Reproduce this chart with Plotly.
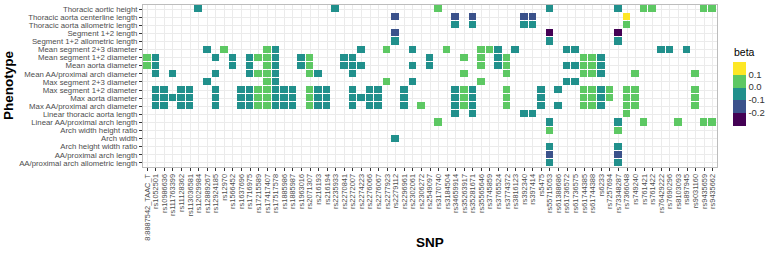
import plotly.graph_objects as go

snps = ["8:8887542_TAAC_T", "rs1052501", "rs10986636", "rs111763399", "rs11128362", "rs113036581",
        "rs12029984", "rs12889267", "rs12924185", "rs12970", "rs1566452", "rs1637696", "rs1716975",
        "rs17215589", "rs17417407", "rs17517578", "rs1885986", "rs1885987", "rs1963016", "rs2071307",
        "rs216193", "rs216194", "rs2235933", "rs2270841", "rs2272007", "rs2274223", "rs2276066",
        "rs2276067", "rs2277923", "rs2279112", "rs2296961", "rs2302061", "rs2306272", "rs2549097",
        "rs3170740", "rs3184504", "rs34659914", "rs35263917", "rs35281671", "rs35565646", "rs3745859",
        "rs3765524", "rs3774372", "rs3816123", "rs392340", "rs397414", "rs5475", "rs55715053",
        "rs61388686", "rs61736572", "rs61736575", "rs61744385", "rs61744388", "rs6233", "rs7257694",
        "rs73348287", "rs7366048", "rs749240", "rs761421", "rs761422", "rs76429222", "rs7690296",
        "rs8103093", "rs897945", "rs9031160", "rs9435659", "rs9435662"]

phenotypes = ["Thoracic aortic height", "Thoracic aorta centerline length", "Thoracic aorta allometric length",
              "Segment 1+2 length", "Segment 1+2 allometric length", "Mean segment 2+3 diameter",
              "Mean segment 1+2 diameter", "Mean aorta diameter", "Mean AA/proximal arch diameter",
              "Max segment 2+3 diameter", "Max segment 1+2 diameter", "Max aorta diameter",
              "Max AA/proximal arch diameter", "Linear thoracic aorta length", "Linear AA/proximal arch length",
              "Arch width height ratio", "Arch width", "Arch height width ratio", "AA/proximal arch length",
              "AA/proximal arch allometric length"]

# beta estimates per phenotype: (SNP column number, beta)
thoracic_aortic_height = [(7, -0.05), (23, -0.05), (35, 0.05), (48, -0.05), (56, -0.05), (59, 0.05), (60, 0.05), (66, 0.05), (67, 0.05)]
thoracic_centerline_length = [(30, -0.15), (37, -0.15), (39, -0.15), (45, -0.15), (46, -0.15), (57, 0.15)]
thoracic_allometric_length = [(37, -0.05), (39, -0.05), (45, -0.05), (46, -0.05), (57, 0.05)]
segment12_length = [(30, -0.15), (48, -0.25), (56, -0.25)]
segment12_allometric_length = [(30, -0.05), (48, -0.05), (56, -0.05)]
mean_segment23_diameter = [(8, -0.05), (10, 0.05), (15, 0.05), (16, -0.05), (26, -0.05), (29, 0.05), (32, -0.05),
                           (36, 0.05), (40, 0.05), (41, 0.05), (42, -0.05), (44, -0.05), (50, -0.05), (51, -0.05),
                           (61, -0.05), (62, -0.05), (64, -0.05)]
mean_segment12_diameter = [(1, 0.05), (2, -0.05), (9, -0.05), (11, -0.05), (13, -0.05), (14, 0.05), (15, 0.05),
                           (16, -0.05), (19, -0.05), (20, 0.05), (24, -0.05), (25, -0.05), (34, -0.05), (38, 0.05),
                           (40, 0.05), (42, -0.05), (43, 0.05), (52, 0.05), (53, 0.05), (54, -0.05)]
mean_aorta_diameter = [(1, 0.05), (2, -0.05), (11, -0.05), (13, -0.05), (15, 0.05), (16, -0.05), (19, -0.05),
                       (20, 0.05), (24, -0.05), (25, -0.05), (26, -0.05), (32, -0.05), (34, -0.05), (40, 0.05),
                       (42, -0.05), (43, 0.05), (50, -0.05), (51, -0.05), (52, 0.05), (53, 0.05), (54, -0.05)]
mean_aa_arch_diameter = [(2, -0.05), (4, -0.05), (9, -0.05), (13, -0.05), (14, 0.05), (15, 0.05), (16, -0.05),
                         (20, 0.05), (21, -0.05), (25, -0.05), (38, 0.05), (43, 0.05), (52, 0.05), (53, 0.05),
                         (54, -0.05), (58, 0.05), (65, 0.05)]
max_segment23_diameter = [(8, -0.05), (15, 0.05), (16, -0.05), (29, 0.05), (32, -0.05), (40, 0.05), (50, -0.05), (51, -0.05)]
max_segment12_diameter = [(2, -0.05), (3, -0.05), (5, -0.05), (6, -0.05), (9, -0.05), (12, -0.05), (13, -0.05),
                          (14, 0.05), (15, 0.05), (16, -0.05), (17, -0.05), (18, -0.05), (20, 0.05), (21, -0.05),
                          (22, -0.05), (25, -0.05), (27, -0.05), (28, -0.05), (31, -0.05), (37, -0.05), (38, 0.05),
                          (39, -0.05), (43, 0.05), (47, -0.05), (49, -0.05), (52, 0.05), (53, 0.05), (54, -0.05),
                          (55, 0.05), (57, 0.05), (58, 0.05), (65, 0.05)]
max_aorta_diameter = [(2, -0.05), (3, -0.05), (4, -0.05), (5, -0.05), (6, -0.05), (9, -0.05), (12, -0.05), (13, -0.05),
                      (14, 0.05), (15, 0.05), (16, -0.05), (17, -0.05), (18, -0.05), (20, 0.05), (21, -0.05),
                      (22, -0.05), (25, -0.05), (26, -0.05), (27, -0.05), (28, -0.05), (31, -0.05), (37, -0.05),
                      (38, 0.05), (39, -0.05), (43, 0.05), (47, -0.05), (52, 0.05), (53, 0.05), (54, -0.05),
                      (55, 0.05), (57, 0.05), (58, 0.05), (65, 0.05)]
max_aa_arch_diameter = [(2, -0.05), (3, -0.05), (5, -0.05), (6, -0.05), (9, -0.05), (12, -0.05), (13, -0.05),
                        (14, 0.05), (15, 0.05), (16, -0.05), (17, -0.05), (18, -0.05), (20, 0.05), (21, -0.05),
                        (22, -0.05), (25, -0.05), (27, -0.05), (28, -0.05), (31, -0.05), (33, 0.05), (37, -0.05),
                        (38, 0.05), (39, -0.05), (43, 0.05), (47, -0.05), (49, -0.05), (52, 0.05), (53, 0.05),
                        (54, -0.05), (57, 0.05), (58, 0.05), (65, 0.05)]
linear_thoracic_length = [(37, -0.05), (39, -0.05), (45, -0.05), (46, -0.05), (57, 0.05)]
linear_aa_arch_length = [(35, 0.05), (48, -0.05), (56, -0.05), (59, 0.05), (63, 0.05), (66, 0.05), (67, 0.05)]
arch_width_height_ratio = [(48, 0.05), (56, 0.05)]
arch_width = [(30, -0.05)]
arch_height_width_ratio = [(48, -0.05), (56, -0.05)]
aa_arch_length = [(48, -0.15), (56, -0.15)]
aa_arch_allometric_length = [(48, -0.05), (56, -0.05)]

rows = [thoracic_aortic_height, thoracic_centerline_length, thoracic_allometric_length, segment12_length,
        segment12_allometric_length, mean_segment23_diameter, mean_segment12_diameter, mean_aorta_diameter,
        mean_aa_arch_diameter, max_segment23_diameter, max_segment12_diameter, max_aorta_diameter,
        max_aa_arch_diameter, linear_thoracic_length, linear_aa_arch_length, arch_width_height_ratio,
        arch_width, arch_height_width_ratio, aa_arch_length, aa_arch_allometric_length]

z = []
for r in rows:
    line = [None] * len(snps)
    for col, b in r:
        line[col - 1] = b
    z.append(line)

P, B, T, G, Y = "#440154", "#3B528B", "#21908C", "#5DC863", "#FDE725"
cs = [[0, P], [0.2, P], [0.2, B], [0.4, B], [0.4, T], [0.6, T], [0.6, G], [0.8, G], [0.8, Y], [1, Y]]

W, H = 774, 253
L, R, TOP, BOT = 143, 57, 5, 86
PW, PH = W - L - R, H - TOP - BOT

fig = go.Figure(go.Heatmap(
    x=snps, y=phenotypes, z=z, zmin=-0.3, zmax=0.2, colorscale=cs,
    xgap=1, ygap=1, hoverongaps=False,
    colorbar=dict(
        tickvals=[-0.2, -0.1, 0.0, 0.1], ticktext=["-0.2", "-0.1", "0.0", "0.1"],
        tickfont=dict(size=9.5, color="#333"), ticks="", outlinewidth=0,
        thickness=13, lenmode="pixels", len=64,
        xref="paper", x=(733 - L) / PW, xanchor="left", xpad=0,
        yref="paper", y=(H - BOT - 61.5) / PH, yanchor="top", ypad=0,
    ),
))

fig.update_layout(
    width=W, height=H, margin=dict(l=L, r=R, t=TOP, b=BOT, autoexpand=False),
    paper_bgcolor="white", plot_bgcolor="white",
    font=dict(family="Liberation Sans, Arial, sans-serif"),
    xaxis=dict(type="category", categoryorder="array", categoryarray=snps, tickangle=-90,
               tickmode="array", tickvals=snps, automargin=False,
               tickfont=dict(size=7.4, color="#4D4D4D"), showgrid=True, gridcolor="#EBEBEB", gridwidth=1,
               ticks="outside", ticklen=3, tickcolor="#333", showline=True, mirror=True,
               linecolor="#BDBDBD", linewidth=1, zeroline=False),
    yaxis=dict(type="category", categoryorder="array", categoryarray=phenotypes, autorange="reversed",
               tickmode="array", tickvals=phenotypes, automargin=False,
               tickfont=dict(size=7.8, color="#4D4D4D"), showgrid=True, gridcolor="#EBEBEB", gridwidth=1,
               ticks="outside", ticklen=3, tickcolor="#333", showline=True, mirror=True,
               linecolor="#BDBDBD", linewidth=1, zeroline=False),
    annotations=[
        dict(text="<b>Phenotype</b>", xref="paper", yref="paper", x=(8 - L) / PW, xanchor="center",
             y=(H - BOT - 85) / PH, yanchor="middle",
             textangle=-90, showarrow=False, font=dict(size=13.5, color="#000")),
        dict(text="<b>SNP</b>", xref="paper", yref="paper", x=(430 - L) / PW, xanchor="center",
             y=-(243 - (H - BOT)) / PH, yanchor="middle", showarrow=False, font=dict(size=13.5, color="#000")),
        dict(text="beta", xref="paper", yref="paper", x=(732 - L) / PW, xanchor="left",
             y=(H - BOT - 52) / PH, yanchor="middle", showarrow=False,
             font=dict(size=10.5, color="#000")),
    ],
)

fig.write_html("out.html", config={"displayModeBar": False},
               post_script="document.body.style.margin='0';document.body.style.overflow='hidden';")
